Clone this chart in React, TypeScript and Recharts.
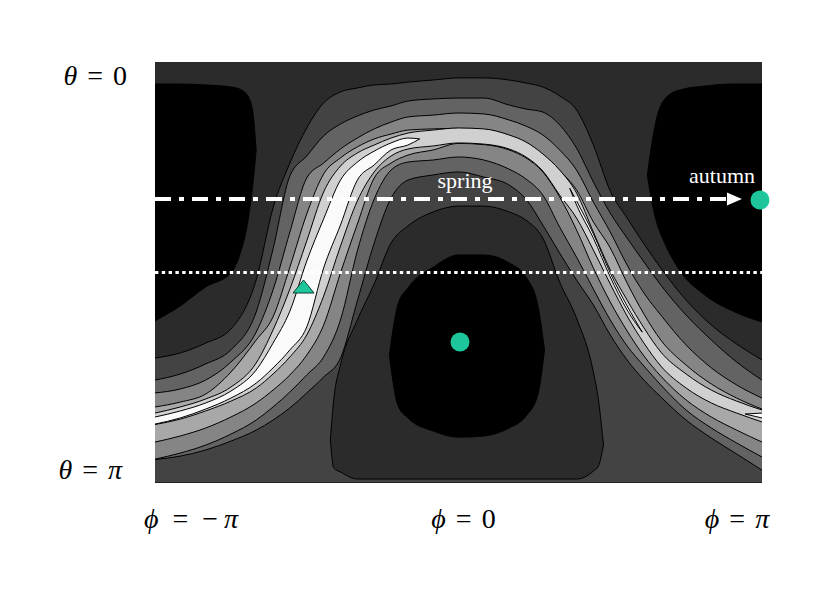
import { ComposedChart, Area, XAxis, YAxis, ReferenceLine, ReferenceDot, Scatter } from "recharts";

const SERIF = '"Liberation Serif", "DejaVu Serif", serif';
const TEAL = "#1dc79b";

// longitudes (deg) where the ridge contours were read
const PHI = [-180, -165, -150, -135, -120, -110, -100, -90, -80, -70, -60, -50, -40, -30, -15, 0, 15, 30, 40, 50, 60, 70, 80, 90, 100, 110, 120, 135, 150, 165, 180];

// colatitude (deg) of each contour, upper (T) and lower (B) side of the ridge
const T1 = [126.6, 124.4, 120.2, 114.2, 93.2, 62.4, 43.2, 28.2, 17.5, 12.8, 11.1, 9.8, 9.4, 8.6, 7.7, 6.8, 6.8, 7.7, 9.0, 10.7, 14.5, 20.5, 35.5, 55.2, 66.7, 77.8, 88.1, 101.8, 112.5, 120.6, 127.4];
const T2 = [136.0, 133.4, 129.1, 123.1, 106.9, 80.0, 48.7, 40.2, 31.6, 26.5, 23.1, 20.5, 18.8, 16.7, 15.8, 15.4, 15.4, 18.4, 20.1, 21.4, 26.9, 36.8, 51.3, 64.6, 75.3, 85.5, 95.4, 108.2, 118.9, 128.3, 136.0];
const B2 = [170.0, 168.5, 165.9, 162.1, 157.4, 153.1, 147.9, 141.5, 134.7, 126.6, 102.2, 77.4, 58.2, 50.5, 48.3, 47.0, 49.2, 52.6, 58.6, 69.7, 81.7, 93.2, 103.9, 116.7, 127.4, 136.0, 143.2, 153.1, 160.8, 167.6, 174.5];
const T3 = [141.5, 139.8, 136.0, 128.3, 115.5, 97.5, 72.7, 49.6, 43.2, 37.2, 32.5, 28.6, 25.7, 23.5, 22.7, 21.8, 22.2, 24.8, 27.4, 31.2, 37.6, 46.2, 59.9, 72.7, 86.8, 98.8, 108.2, 121.0, 130.8, 138.1, 143.7];
const B3 = [169.8, 167.2, 163.8, 159.1, 153.1, 147.5, 141.1, 133.8, 126.1, 110.3, 80.8, 58.6, 46.2, 42.8, 41.9, 40.6, 41.9, 45.8, 50.0, 56.9, 70.6, 83.4, 97.1, 110.3, 121.4, 130.0, 138.1, 148.8, 156.5, 162.9, 168.9];
const T4 = [147.5, 145.4, 142.0, 132.6, 118.9, 109.0, 87.7, 65.0, 47.9, 41.0, 36.3, 32.9, 30.8, 29.1, 28.6, 28.4, 28.9, 31.4, 34.4, 39.6, 46.4, 54.7, 68.4, 79.5, 94.5, 107.8, 118.9, 129.6, 137.7, 143.7, 148.4];
const B4 = [162.5, 159.9, 156.5, 151.8, 145.8, 140.3, 133.8, 125.3, 112.5, 90.2, 69.3, 49.6, 43.2, 39.8, 37.6, 34.8, 35.3, 37.6, 41.0, 47.0, 57.7, 71.8, 88.1, 102.6, 115.0, 125.7, 134.3, 144.5, 151.8, 157.4, 162.5];
const T5 = [150.1, 147.5, 144.1, 139.0, 128.7, 114.6, 97.1, 76.5, 55.6, 44.5, 38.9, 35.5, 32.5, 30.4, 29.1, 28.2, 28.6, 31.2, 34.2, 39.3, 46.2, 56.0, 72.7, 88.9, 101.8, 113.7, 124.0, 133.4, 140.3, 145.0, 148.8];
const B5 = [155.0, 152.7, 149.2, 145.0, 139.4, 133.4, 126.1, 116.7, 100.1, 78.7, 59.4, 47.0, 40.2, 37.2, 35.9, 34.6, 35.1, 37.2, 40.6, 46.6, 56.9, 66.7, 80.4, 94.9, 108.6, 120.2, 130.0, 139.4, 145.8, 150.1, 153.9];
const FLOOR = PHI.map(() => 180);

// white core of the ridge
const PHI_CORE_L = [-180, -165, -150, -135, -120, -110, -100, -90, -80, -70, -60, -50, -40, -30, -23];
const T6_L = [151.8, 149.2, 145.8, 140.7, 131.7, 120.2, 106.5, 85.1, 67.1, 50.5, 42.8, 38.1, 34.6, 32.5, 32.9];
const B6_L = [154.8, 152.2, 148.4, 143.7, 137.3, 130.8, 123.1, 113.3, 88.1, 69.7, 50.5, 44.0, 37.6, 35.5, 32.9];
const PHI_CORE_R = [66, 70, 80, 90, 100, 109];
const T6_R = [54.0, 59.4, 73.5, 90.2, 104.3, 115.5];
const B6_R = [54.0, 61.1, 75.3, 91.9, 106.0, 115.5];
const PHI_CORE_E = [170, 180];
const T6_E = [150.5, 150.1];
const B6_E = [150.5, 152.2];

// dark basin round the central minimum
const PHI_HALO = [-76, -74, -70, -60, -50, -40, -30, -15, 0, 15, 30, 40, 50, 60, 70, 80, 83, 86];
const HALO_TOP = [161.6, 144.5, 129.6, 110.3, 94.9, 77.4, 70.1, 64.1, 61.6, 61.6, 64.1, 67.6, 75.3, 94.1, 109.5, 132.6, 144.5, 163.8];
const HALO_BOTTOM = [161.6, 173.6, 175.3, 178.3, 178.3, 178.3, 178.3, 178.3, 178.3, 178.3, 178.3, 178.3, 178.3, 178.3, 178.3, 174.9, 172.7, 163.8];

// black minima
const PHI_MIN_C = [-41, -36, -30, -15, 0, 15, 30, 40, 47, 51];
const MIN_C_TOP = [125.3, 103.9, 96.6, 87.7, 82.5, 82.5, 85.9, 91.9, 103.9, 123.1];
const MIN_C_BOTTOM = [125.3, 146.7, 152.2, 157.8, 160.4, 159.9, 156.5, 151.4, 142.4, 123.1];
const PHI_MIN_L = [-180, -165, -150, -135, -130, -125, -122, -120];
const MIN_L_TOP = [9.4, 9.4, 9.8, 10.7, 11.5, 14.5, 21.4, 37.6];
const MIN_L_BOTTOM = [110.7, 104.3, 96.2, 90.2, 83.0, 68.4, 52.6, 37.6];
const PHI_MIN_R = [112, 115, 118, 122, 131, 146, 164, 180];
const MIN_R_TOP = [48.3, 33.4, 22.7, 16.2, 12.0, 10.3, 9.4, 9.4];
const MIN_R_BOTTOM = [48.3, 61.1, 69.7, 77.0, 88.9, 99.6, 106.9, 111.2];

// orbit markers
const SPRING_THETA = 58.6;
const ARROW_END_PHI = 159.2;
const EQUATOR_THETA = 90;
const CIRCLES = [
  { phi: 0.9, theta: 119.7 },
  { phi: 178.8, theta: 59.0 },
];
const TRIANGLES = [{ phi: -91.9, theta: 96.2 }];
const ARROW_TIP = [{ phi: 168.1, theta: 58.6 }];
const LABELS = [
  { text: "spring", phi: 3.9, theta: 50.5 },
  { text: "autumn", phi: 156.3, theta: 48.5 },
];

type Band = { key: string; phi: number[]; top: number[]; bottom: number[]; fill: string };

const BANDS: Band[] = [
  { key: "bg", phi: [-180, 180], top: [0, 0], bottom: [180, 180], fill: "#2b2b2b" },
  { key: "b1", phi: PHI, top: T1, bottom: FLOOR, fill: "#434343" },
  { key: "halo", phi: PHI_HALO, top: HALO_TOP, bottom: HALO_BOTTOM, fill: "#2b2b2b" },
  { key: "b2", phi: PHI, top: T2, bottom: B2, fill: "#636363" },
  { key: "b3", phi: PHI, top: T3, bottom: B3, fill: "#858585" },
  { key: "b4", phi: PHI, top: T4, bottom: B4, fill: "#a8a8a8" },
  { key: "b5", phi: PHI, top: T5, bottom: B5, fill: "#d0d0d0" },
  { key: "b6l", phi: PHI_CORE_L, top: T6_L, bottom: B6_L, fill: "#fafafa" },
  { key: "b6r", phi: PHI_CORE_R, top: T6_R, bottom: B6_R, fill: "#fafafa" },
  { key: "b6e", phi: PHI_CORE_E, top: T6_E, bottom: B6_E, fill: "#fafafa" },
  { key: "minL", phi: PHI_MIN_L, top: MIN_L_TOP, bottom: MIN_L_BOTTOM, fill: "#000" },
  { key: "minR", phi: PHI_MIN_R, top: MIN_R_TOP, bottom: MIN_R_BOTTOM, fill: "#000" },
  { key: "minC", phi: PHI_MIN_C, top: MIN_C_TOP, bottom: MIN_C_BOTTOM, fill: "#000" },
];

function buildRows() {
  const m = new Map<number, Record<string, any>>();
  for (const b of BANDS) {
    b.phi.forEach((p, i) => {
      if (!m.has(p)) m.set(p, { phi: p });
      m.get(p)![b.key] = [b.top[i], b.bottom[i]];
    });
  }
  return [...m.values()].sort((a, b) => a.phi - b.phi);
}

const rows = buildRows();

function ThetaTick({ x, y, payload }: any) {
  const zero = payload.value === 0;
  return (
    <text x={zero ? x - 28 : x - 33} y={zero ? y + 23 : y - 4} textAnchor="end" fontFamily={SERIF} fontSize={28} fill="#000">
      <tspan fontStyle="italic">θ</tspan>
      <tspan dx={10}>=</tspan>
      <tspan dx={10} fontStyle={zero ? "normal" : "italic"}>{zero ? "0" : "π"}</tspan>
    </text>
  );
}

function PhiTick({ x, y, payload }: any) {
  const v = payload.value;
  const shift = v < 0 ? 36 : v > 0 ? -25 : 5;
  return (
    <text x={x + shift} y={y + 45} textAnchor="middle" fontFamily={SERIF} fontSize={28} fill="#000">
      <tspan fontStyle="italic">ϕ</tspan>
      <tspan dx={v < 0 ? 14 : 10}>=</tspan>
      {v === 0 && <tspan dx={10}>0</tspan>}
      {v < 0 && <tspan dx={14}>−</tspan>}
      {v !== 0 && <tspan dx={v < 0 ? 6 : 10} fontStyle="italic">π</tspan>}
    </text>
  );
}

const circleShape = (p: any) => <circle cx={p.cx} cy={p.cy} r={9.5} fill={TEAL} />;
const triangleShape = (p: any) => (
  <polygon
    points={`${p.cx},${p.cy - 7} ${p.cx + 10.5},${p.cy + 6} ${p.cx - 10.5},${p.cy + 6}`}
    fill={TEAL}
    stroke="#0d3d30"
    strokeWidth={1}
  />
);
const arrowShape = (p: any) => (
  <polygon points={`${p.cx},${p.cy} ${p.cx - 15},${p.cy - 6.5} ${p.cx - 15},${p.cy + 6.5}`} fill="#fff" />
);

export default function App() {
  return (
    <div style={{ width: 817, height: 613, background: "#fff" }}>
      <style>{"body{margin:0}"}</style>
      <ComposedChart width={817} height={613} data={rows} margin={{ top: 62, right: 55, bottom: 70, left: 55 }}>
        <XAxis
          dataKey="phi"
          type="number"
          domain={[-180, 180]}
          ticks={[-180, 0, 180]}
          interval={0}
          height={60}
          axisLine={false}
          tickLine={false}
          tickSize={0}
          tickMargin={0}
          tick={<PhiTick />}
        />
        <YAxis
          type="number"
          domain={[0, 180]}
          reversed
          allowDataOverflow
          ticks={[0, 180]}
          interval={0}
          width={100}
          axisLine={false}
          tickLine={false}
          tickSize={0}
          tickMargin={0}
          tick={<ThetaTick />}
        />
        {BANDS.map((b) => (
          <Area
            key={b.key}
            dataKey={b.key}
            type="monotone"
            fill={b.fill}
            fillOpacity={1}
            stroke={b.key === "bg" ? "none" : "#000"}
            strokeWidth={1}
            connectNulls
            dot={false}
            activeDot={false}
            isAnimationActive={false}
          />
        ))}
        <ReferenceLine y={EQUATOR_THETA} stroke="#fff" strokeWidth={3} strokeDasharray="3.4 3.4" />
        <ReferenceLine
          segment={[
            { x: -180, y: SPRING_THETA },
            { x: ARROW_END_PHI, y: SPRING_THETA },
          ]}
          stroke="#fff"
          strokeWidth={4}
          strokeDasharray="16 8 5 8"
        />
        <Scatter data={ARROW_TIP} dataKey="theta" shape={arrowShape} isAnimationActive={false} />
        <Scatter data={CIRCLES} dataKey="theta" shape={circleShape} isAnimationActive={false} />
        <Scatter data={TRIANGLES} dataKey="theta" shape={triangleShape} isAnimationActive={false} />
        {LABELS.map((l) => (
          <ReferenceDot
            key={l.text}
            x={l.phi}
            y={l.theta}
            r={0}
            fill="none"
            stroke="none"
            label={{ value: l.text, position: "center", fill: "#fff", fontSize: 22, fontFamily: SERIF }}
          />
        ))}
      </ComposedChart>
    </div>
  );
}
